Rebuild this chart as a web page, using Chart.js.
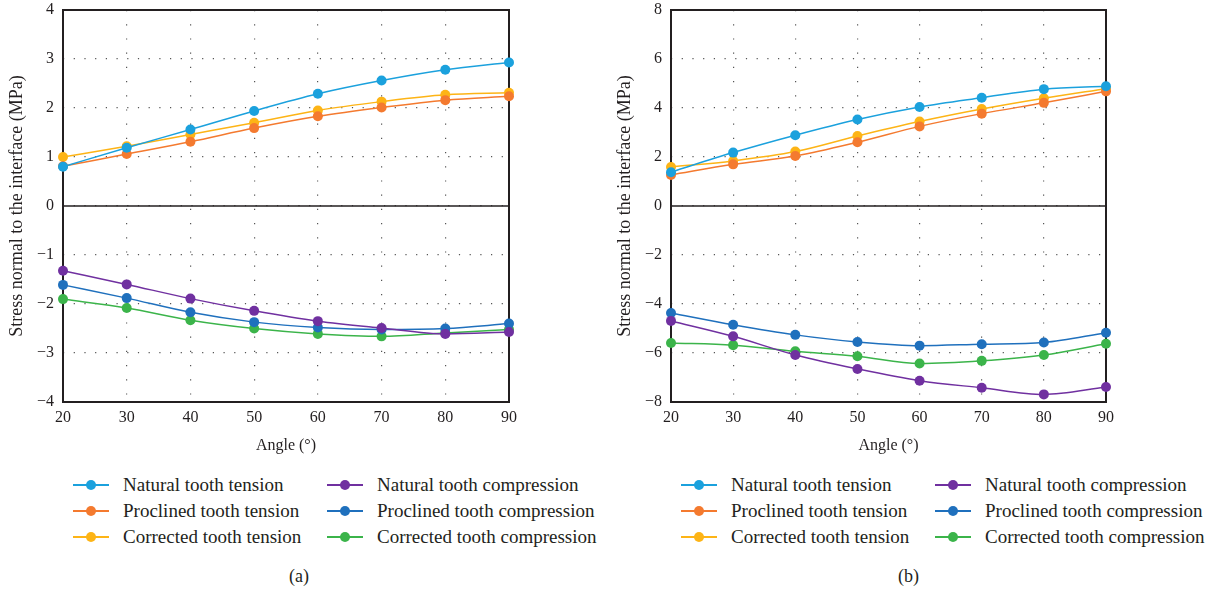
<!DOCTYPE html>
<html>
<head>
<meta charset="utf-8">
<script src="https://cdn.jsdelivr.net/npm/chart.js@4.4.1/dist/chart.umd.min.js"></script>
<style>
body{margin:0;background:#fff;font-family:"Liberation Serif",serif;color:#231f20}
.panel{position:absolute;top:0;width:608px;height:591px}
.panel canvas{position:absolute;left:0;top:0}
.leg{position:absolute;font-size:19px;line-height:20px;white-space:nowrap}
.leg .mk{position:absolute;left:-50px;top:9px;width:36px;height:2px}
.leg .dot{position:absolute;left:-37px;top:5px;width:10px;height:10px;border-radius:50%}
.cap{position:absolute;top:566px;font-size:18px}
</style>
</head>
<body>
<div class="panel" id="pa" style="left:0"><canvas id="chartA" width="608" height="462"></canvas><div class="cap" style="left:289px">(a)</div></div>
<div class="panel" id="pb" style="left:608px"><canvas id="chartB" width="608" height="462"></canvas><div class="cap" style="left:290px">(b)</div></div>
<script>

const angles = [20,30,40,50,60,70,80,90]

const names = ["Natural tooth tension","Natural tooth compression","Proclined tooth tension","Proclined tooth compression","Corrected tooth tension","Corrected tooth compression"]
const colors = ["#1ba1dd","#7030a0","#f47a2f","#1f70bd","#fdb416","#3bb44a"]

// panel (a)
const aNaturalTension = [0.80,1.19,1.56,1.94,2.29,2.56,2.78,2.93]
const aNaturalCompression = [-1.32,-1.60,-1.89,-2.14,-2.35,-2.49,-2.61,-2.57]
const aProclinedTension = [0.81,1.06,1.31,1.59,1.83,2.01,2.16,2.24]
const aProclinedCompression = [-1.61,-1.88,-2.17,-2.37,-2.48,-2.52,-2.50,-2.40]
const aCorrectedTension = [1.00,1.22,1.46,1.70,1.95,2.13,2.27,2.31]
const aCorrectedCompression = [-1.90,-2.08,-2.33,-2.50,-2.61,-2.66,-2.59,-2.52]

// panel (b)
const bNaturalTension = [1.38,2.18,2.89,3.53,4.04,4.42,4.77,4.89]
const bNaturalCompression = [-4.69,-5.32,-6.08,-6.65,-7.13,-7.42,-7.69,-7.39]
const bProclinedTension = [1.27,1.70,2.04,2.60,3.25,3.77,4.21,4.68]
const bProclinedCompression = [-4.37,-4.85,-5.26,-5.55,-5.70,-5.64,-5.57,-5.17]
const bCorrectedTension = [1.59,1.84,2.22,2.86,3.45,3.96,4.40,4.79]
const bCorrectedCompression = [-5.59,-5.68,-5.93,-6.13,-6.43,-6.32,-6.08,-5.62]

const aSeries = [aNaturalTension,aNaturalCompression,aProclinedTension,aProclinedCompression,aCorrectedTension,aCorrectedCompression]
const bSeries = [bNaturalTension,bNaturalCompression,bProclinedTension,bProclinedCompression,bCorrectedTension,bCorrectedCompression]

const aTicks = {min:-4,max:4,step:1}
const bTicks = {min:-8,max:8,step:2}

// frame round the plot and solid zero line
const framePlugin = {
  id:'frame',
  beforeDatasetsDraw(chart){
    const a = chart.chartArea
    const ctx = chart.ctx
    const y0 = chart.scales.y.getPixelForValue(0)
    ctx.save()
    ctx.strokeStyle = "#231f20"
    ctx.lineWidth = 1.6
    ctx.beginPath()
    ctx.moveTo(a.left,y0)
    ctx.lineTo(a.right,y0)
    ctx.stroke()
    ctx.lineWidth = 2
    ctx.strokeRect(a.left,a.top,a.right-a.left,a.bottom-a.top)
    ctx.restore()
  }
}

function makeChart(id, series, yt, padRight){

const ctx = document.getElementById(id)

return new Chart(ctx,{
type:"line",
data:{
datasets: series.map((vals,i)=>({
label:names[i],
data:vals.map((v,j)=>({x:angles[j],y:v})),
borderColor:colors[i],
backgroundColor:colors[i],
borderWidth:1.5,
pointRadius:5,
pointHoverRadius:5,
pointBorderWidth:0,
cubicInterpolationMode:"monotone",
clip:false
}))
},
options:{
responsive:false,
animation:false,
layout:{padding:{top:10,right:padRight,left:0,bottom:0}},
plugins:{
legend:{display:false},
tooltip:{enabled:false}
},
scales:{
x:{
type:"linear",
min:20,max:90,
afterFit(s){ s.height = 60 },
ticks:{stepSize:10,padding:6,color:"#231f20",font:{family:"Liberation Serif",size:16}},
grid:{color:"#555",lineWidth:1.2,drawTicks:false},
border:{display:false,dash:[1.2,13]},
title:{display:true,text:"Angle (°)",color:"#231f20",font:{family:"Liberation Serif",size:16},padding:{top:0,bottom:7}}
},
y:{
min:yt.min,max:yt.max,
afterFit(s){ s.width = 63; s.paddingTop = 0; s.paddingBottom = 0 },
ticks:{stepSize:yt.step,padding:9,color:"#231f20",font:{family:"Liberation Serif",size:16},
callback:v=>String(v).replace("-","\u2212")},
grid:{color:"#555",lineWidth:1.2,drawTicks:false},
border:{display:false,dash:[1.2,9.5]},
title:{display:true,text:"Stress normal to the interface (MPa)",color:"#231f20",font:{family:"Liberation Serif",size:18},padding:{top:6,bottom:0}}
}
}
},
plugins:[framePlugin]
})

}

function makeLegend(panelId){
const panel = document.getElementById(panelId)
const cols = [123,377]
const rows = [475,501,527]
names.forEach((n,i)=>{
const d = document.createElement("div")
d.className = "leg"
d.style.left = cols[i%2]+"px"
d.style.top = rows[Math.floor(i/2)]+"px"
d.innerHTML = '<span class="mk" style="background:'+colors[i]+'"></span><span class="dot" style="background:'+colors[i]+'"></span>'+n
panel.appendChild(d)
})
}

makeChart("chartA", aSeries, aTicks, 99)
makeChart("chartB", bSeries, bTicks, 110)
makeLegend("pa")
makeLegend("pb")

</script>
</body>
</html>
